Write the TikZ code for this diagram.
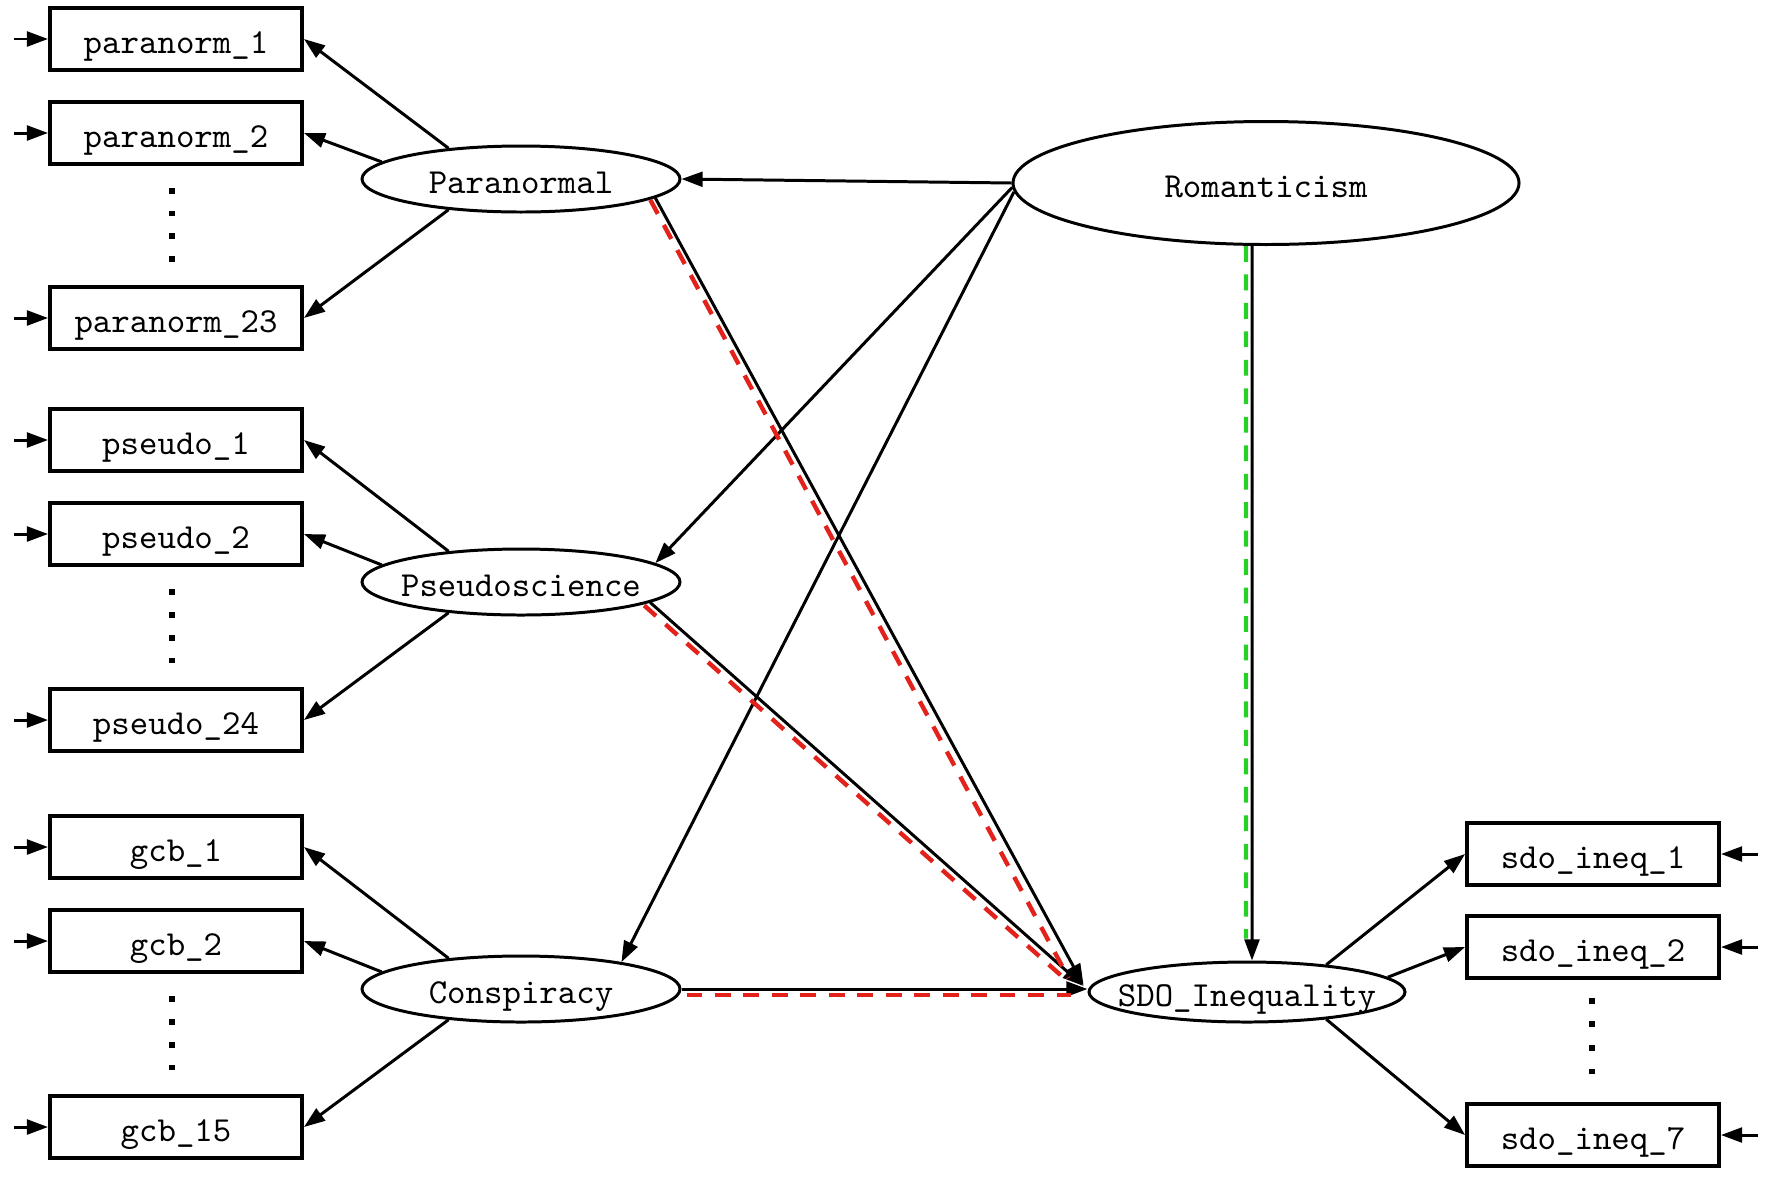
\documentclass[tikz,border=0pt]{standalone}
\usetikzlibrary{shapes.geometric,arrows.meta,calc}
\definecolor{pathred}{RGB}{228,34,28}
\definecolor{pathgreen}{RGB}{38,208,38}

\begin{document}
\begin{tikzpicture}[x=0.1mm,y=-0.1mm,
		font={\fontsize{10pt}{12pt}\selectfont\ttfamily},text height=8pt,text depth=0pt,
		item/.style={draw,line width=1.1pt,minimum width=25.2mm,minimum height=6.2mm,inner sep=0pt},
		factor/.style={draw,ellipse,line width=0.85pt,inner sep=0pt,minimum width=31.8mm,minimum height=6.6mm},
		link/.style={line width=0.85pt,-{Triangle[length=6pt,width=4.2pt]}},
		redpath/.style={pathred,line width=1.25pt,dash pattern=on 4.5pt off 3.6pt},
		greenpath/.style={pathgreen,line width=1.2pt,dash pattern=on 4.5pt off 3.6pt}]
	\path[fill=white] (0,0) rectangle (1772,1182);
	\foreach \nm/\y/\txt in {p1/39/paranorm\_1,p2/133/paranorm\_2,p23/318/paranorm\_23,s1/440/pseudo\_1,s2/534/pseudo\_2,s24/720/pseudo\_24,g1/847/gcb\_1,g2/941/gcb\_2,g15/1127/gcb\_15}{
		\node[item] (\nm) at (176,\y) {\txt};
		\coordinate (e\nm) at (14,\y);
		\draw[link] (e\nm) -- (\nm.west);
	}
	\foreach \nm/\y/\txt in {i1/854/sdo\_ineq\_1,i2/947/sdo\_ineq\_2,i7/1135/sdo\_ineq\_7}{
		\node[item] (\nm) at (1593,\y) {\txt};
		\coordinate (e\nm) at (1758,\y);
		\draw[link] (e\nm) -- (\nm.east);
	}
	\node[factor,label=center:Paranormal] (para) at (521,179) {};
	\node[factor,label=center:Pseudoscience] (pseudo) at (521,582) {};
	\node[factor,label=center:Conspiracy] (consp) at (521,989) {};
	\node[factor,minimum width=50.6mm,minimum height=12.3mm,label=center:Romanticism] (rom) at (1266,183) {};
	\node[factor,minimum width=31.6mm,minimum height=6mm,label=center:SDO\_Inequality] (sdo) at (1247,992) {};
	\foreach \lv/\a/\b/\c in {para/p1/p2/p23,pseudo/s1/s2/s24,consp/g1/g2/g15}{
		\draw[link] (\lv.157) -- (\a.east);
		\draw[link] (\lv.173) -- (\b.east);
		\draw[link] (\lv.203) -- (\c.east);
		\foreach \t in {0.21,0.40,0.59,0.78}
			\fill ($(\b.south)!\t!(\c.north)+(-4,0)$) +(-2.8,-2.8) rectangle +(2.8,2.8);
	}
	\draw[link] (sdo.19) -- (i1.west);
	\draw[link] (sdo.6) -- (i2.west);
	\draw[link] (sdo.-19) -- (i7.west);
	\foreach \t in {0.17,0.36,0.555,0.75}
		\fill ($(i2.south)!\t!(i7.north)+(-1,0)$) +(-2.8,-2.8) rectangle +(2.8,2.8);
	\draw[link] (rom.west) -- (para.east);
	\draw[link] (rom.181) -- (pseudo.8);
	\draw[link] (rom.182) -- (consp.15);
	\draw[link] (para.-8) -- ($(sdo.west)+(-4,-7)$);
	\draw[link] (pseudo.-9) -- ($(sdo.west)+(-4,-6)$);
	\draw[link] (consp.east) -- (consp.east -| sdo.west);
	\draw[link] ([xshift=-1.4mm]rom.south) -- ([xshift=0.5mm]sdo.north);
	% mediated paths
	\draw[redpath] ($(para.-8)+(-5,2)$) -- ($(sdo.west)+(-19,-14)$);
	\draw[redpath] ($(pseudo.-9)+(-6,3)$) -- ($(sdo.west)+(-18,-9)$);
	\draw[redpath] ($(consp.east)+(5,6)$) -- ($(consp.east -| sdo.west)+(-17,6)$);
	\draw[greenpath] ([xshift=-2mm]rom.south) -- ($(sdo.north)+(-1,-22)$);
\end{tikzpicture}
\end{document}
